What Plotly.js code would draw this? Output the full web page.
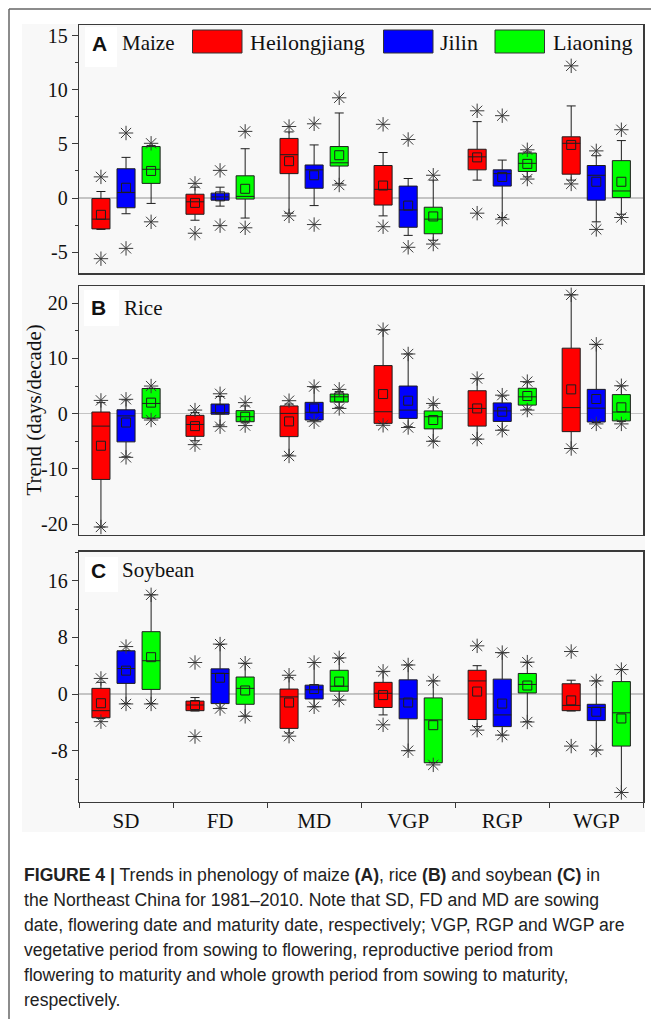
<!DOCTYPE html>
<html><head><meta charset="utf-8">
<script src="https://cdn.plot.ly/plotly-3.0.1.min.js"></script>
<style>html,body{margin:0;padding:0;background:#fff;} #chart{width:651px;height:1019px;}</style>
</head><body><div id="chart"></div>
<script>
// ---------- categories / labels ----------
const categories = ['SD','FD','MD','VGP','RGP','WGP'];
const provinces = ['Heilongjiang','Jilin','Liaoning'];
const provColors = ['#ff0000','#0000ff','#00ff00'];

// ---------- A  Maize ----------
// Heilongjiang
const maizeHLJ_q1   = [-2.85,-1.5, 2.25,-0.65, 2.6, 2.2];
const maizeHLJ_med  = [-1.95,-0.35,4.0, 0.8, 3.8, 5.05];
const maizeHLJ_q3   = [-0.05, 0.35,5.5, 3.0, 4.5, 5.65];
const maizeHLJ_lo   = [-2.9,-2.05,-1.4,-1.65,1.65,1.65];
const maizeHLJ_hi   = [0.6, 1.0, 6.1, 4.2, 7.05, 8.5];
const maizeHLJ_mean = [-1.55,-0.45,3.4, 1.15,3.75, 4.9];
const maizeHLJ_min  = [-5.6,-3.25,-1.65,-2.65,-1.4,1.3];
const maizeHLJ_max  = [1.95, 1.35, 6.6, 6.8, 8.05, 12.2];
// Jilin
const maizeJL_q1   = [-0.9,-0.2, 0.9,-2.7, 1.1,-0.2];
const maizeJL_med  = [0.5, 0.1, 2.6,-1.1, 2.25,2.1];
const maizeJL_q3   = [2.7, 0.45,3.05,1.1, 2.6, 3.0];
const maizeJL_lo   = [-1.45,-0.75,-0.7,-3.45,-1.8,-2.2];
const maizeJL_hi   = [3.75,1.0, 4.9, 1.8, 3.5, 3.9];
const maizeJL_mean = [0.95,0.15,2.1,-0.7, 1.95,1.5];
const maizeJL_min  = [-4.65,-2.55,-2.45,-4.55,-1.95,-2.9];
const maizeJL_max  = [6.0, 2.55,6.85,5.4, 7.6, 4.35];
// Liaoning
const maizeLN_q1   = [1.35,-0.1, 2.95,-3.3, 2.45,0.05];
const maizeLN_med  = [2.65,0.15, 3.25,-1.95,3.2, 0.65];
const maizeLN_q3   = [4.75,2.05, 4.75,-0.85,4.15,3.45];
const maizeLN_lo   = [-0.5,-1.85,1.35,-3.9, 1.95,-1.5];
const maizeLN_hi   = [4.85,4.55, 7.85,1.65, 4.25,5.3];
const maizeLN_mean = [2.5, 0.85, 3.95,-1.7, 3.15,1.5];
const maizeLN_min  = [-2.2,-2.75,1.2,-4.25, 1.75,-1.8];
const maizeLN_max  = [5.05,6.15, 9.25,2.1, 4.45,6.3];

// ---------- B  Rice ----------
const riceHLJ_q1   = [-11.9,-4.1,-4.15,-1.75,-2.25,-3.25];
const riceHLJ_med  = [-2.25,-1.95,0.05,0.35, 0.95, 1.1];
const riceHLJ_q3   = [0.3,-0.3, 1.4, 8.7, 4.15, 11.85];
const riceHLJ_lo   = [-20.5,-4.9,-7.5,-1.8,-4.6,-6.3];
const riceHLJ_hi   = [2.0, 0.2, 1.75,15.1, 6.3, 21.5];
const riceHLJ_mean = [-5.8,-2.25,-1.4,3.55,0.95, 4.4];
const riceHLJ_min  = [-20.5,-5.6,-7.65,-2.1,-4.6,-6.3];
const riceHLJ_max  = [2.4, 0.65,2.35,15.2, 6.35, 21.5];
const riceJL_q1   = [-5.1,-0.1,-1.15,-0.85,-1.4,-1.5];
const riceJL_med  = [-0.4,0.2, 0.25, 0.65, 0.5, 1.0];
const riceJL_q3   = [0.7, 1.75,2.05, 5.0, 1.95, 4.4];
const riceJL_lo   = [-7.8,-2.05,-1.2,-2.35,-2.95,-1.6];
const riceJL_hi   = [2.5, 3.1, 4.8, 10.8, 3.2, 12.5];
const riceJL_mean = [-1.6,0.8, 0.95, 2.35, 0.35, 2.65];
const riceJL_min  = [-7.9,-2.35,-1.45,-2.5,-3.0,-1.85];
const riceJL_max  = [2.6, 3.6, 4.9, 10.8, 3.35, 12.55];
const riceLN_q1   = [-0.8,-1.45,2.1,-2.75,1.55,-1.3];
const riceLN_med  = [1.85,-0.55,3.05,-0.55,3.05,0.3];
const riceLN_q3   = [4.55,0.55,3.55,0.5, 4.6, 3.45];
const riceLN_lo   = [-0.9,-1.65,1.15,-4.95,0.8,-1.4];
const riceLN_hi   = [4.6, 1.4, 4.0, 1.55, 5.7, 5.0];
const riceLN_mean = [2.0,-0.55,2.95,-1.15,3.2, 1.15];
const riceLN_min  = [-1.15,-2.15,0.95,-5.0,0.65,-1.85];
const riceLN_max  = [5.0, 2.0, 4.4, 1.85, 5.8, 5.05];

// ---------- C  Soybean ----------
const soyHLJ_q1   = [-3.35,-2.35,-4.85,-1.9,-3.6,-2.35];
const soyHLJ_med  = [-2.35,-1.55,-0.4, 0.1, 1.85,-1.6];
const soyHLJ_q3   = [0.8,-1.0, 0.7, 1.65, 3.35, 1.45];
const soyHLJ_lo   = [-3.45,-2.4,-5.5,-2.95,-4.6,-2.4];
const soyHLJ_hi   = [1.65,-0.5, 2.3, 3.15, 4.0, 1.95];
const soyHLJ_mean = [-1.3,-1.55,-1.2,-0.15,0.35,-0.9];
const soyHLJ_min  = [-3.9,-6.0,-5.95,-4.35,-5.1,-7.35];
const soyHLJ_max  = [2.2, 4.45,2.65, 3.2, 6.8, 6.0];
const soyJL_q1   = [1.5,-1.35,-0.7,-3.5,-4.6,-3.75];
const soyJL_med  = [3.6, 2.9, 0.6,-0.7,-2.95,-1.9];
const soyJL_q3   = [6.1, 3.55,1.25,2.0, 2.1,-1.45];
const soyJL_lo   = [-1.35,-2.0,-1.8,-8.0,-5.8,-7.9];
const soyJL_hi   = [6.15,7.0, 4.45,4.1, 5.8, 1.85];
const soyJL_mean = [3.3, 2.3, 0.7,-1.2,-1.35,-2.5];
const soyJL_min  = [-1.4,-2.05,-1.8,-8.0,-5.8,-7.9];
const soyJL_max  = [6.7, 7.05,4.45,4.1, 5.85,1.85];
const soyLN_q1   = [0.65,-1.45,0.4,-9.7, 0.15,-7.35];
const soyLN_med  = [4.7, 0.8, 1.1,-3.65,1.35,-2.65];
const soyLN_q3   = [8.8, 2.4, 3.35,-0.55,2.9, 1.75];
const soyLN_lo   = [-1.35,-3.1,-0.85,-9.7,-3.9,-13.9];
const soyLN_hi   = [14.0,4.3, 5.05,1.85, 4.45,3.45];
const soyLN_mean = [5.2, 0.5, 1.75,-4.4, 1.2,-3.45];
const soyLN_min  = [-1.4,-3.15,-0.85,-10.0,-3.95,-13.9];
const soyLN_max  = [14.0,4.35,5.1, 1.85, 4.5, 3.45];

// ---------- tick labels ----------
const tickValsA = [-5,0,5,10,15],   tickTextA = ['-5','0','5','10','15'];
const tickValsB = [-20,-10,0,10,20], tickTextB = ['-20','-10','0','10','20'];
const tickValsC = [-8,0,8,16],      tickTextC = ['-8','0','8','16'];
const panelNames = ['Maize','Rice','Soybean'];
const panelLetters = ['A','B','C'];
const yTitle = 'Trend (days/decade)';
const captionLines = [
  '<b>FIGURE 4 |</b> Trends in phenology of maize <b>(A)</b>, rice <b>(B)</b> and soybean <b>(C)</b> in',
  'the Northeast China for 1981–2010. Note that SD, FD and MD are sowing',
  'date, flowering date and maturity date, respectively; VGP, RGP and WGP are',
  'vegetative period from sowing to flowering, reproductive period from',
  'flowering to maturity and whole growth period from sowing to maturity,',
  'respectively.'
];

// ---------- build ----------
const W = 651, H = 1019;
const px = v => v / W;
const py = v => 1 - v / H;
const SERIF = 'Liberation Serif, Times New Roman, serif';
const SANS = 'Liberation Sans, Arial, sans-serif';
const DARK = '#1e1e1e';

const crops = [
  [ {q1:maizeHLJ_q1,med:maizeHLJ_med,q3:maizeHLJ_q3,lo:maizeHLJ_lo,hi:maizeHLJ_hi,mean:maizeHLJ_mean,min:maizeHLJ_min,max:maizeHLJ_max},
    {q1:maizeJL_q1,med:maizeJL_med,q3:maizeJL_q3,lo:maizeJL_lo,hi:maizeJL_hi,mean:maizeJL_mean,min:maizeJL_min,max:maizeJL_max},
    {q1:maizeLN_q1,med:maizeLN_med,q3:maizeLN_q3,lo:maizeLN_lo,hi:maizeLN_hi,mean:maizeLN_mean,min:maizeLN_min,max:maizeLN_max} ],
  [ {q1:riceHLJ_q1,med:riceHLJ_med,q3:riceHLJ_q3,lo:riceHLJ_lo,hi:riceHLJ_hi,mean:riceHLJ_mean,min:riceHLJ_min,max:riceHLJ_max},
    {q1:riceJL_q1,med:riceJL_med,q3:riceJL_q3,lo:riceJL_lo,hi:riceJL_hi,mean:riceJL_mean,min:riceJL_min,max:riceJL_max},
    {q1:riceLN_q1,med:riceLN_med,q3:riceLN_q3,lo:riceLN_lo,hi:riceLN_hi,mean:riceLN_mean,min:riceLN_min,max:riceLN_max} ],
  [ {q1:soyHLJ_q1,med:soyHLJ_med,q3:soyHLJ_q3,lo:soyHLJ_lo,hi:soyHLJ_hi,mean:soyHLJ_mean,min:soyHLJ_min,max:soyHLJ_max},
    {q1:soyJL_q1,med:soyJL_med,q3:soyJL_q3,lo:soyJL_lo,hi:soyJL_hi,mean:soyJL_mean,min:soyJL_min,max:soyJL_max},
    {q1:soyLN_q1,med:soyLN_med,q3:soyLN_q3,lo:soyLN_lo,hi:soyLN_hi,mean:soyLN_mean,min:soyLN_min,max:soyLN_max} ]
];

const data = [];
crops.forEach((crop, ci) => {
  const xa = ci === 0 ? 'x' : 'x' + (ci + 1);
  const ya = ci === 0 ? 'y' : 'y' + (ci + 1);
  crop.forEach((s, pi) => {
    data.push({
      type:'box', name:provinces[pi], x:categories, xaxis:xa, yaxis:ya,
      q1:s.q1, median:s.med, q3:s.q3, lowerfence:s.lo, upperfence:s.hi,
      boxpoints:false, offsetgroup:provinces[pi], showlegend:false,
      fillcolor:provColors[pi], line:{color:DARK, width:1}, whiskerwidth:0.5
    });
  });
  crop.forEach((s, pi) => {
    data.push({
      type:'scatter', mode:'markers', x:categories, y:s.mean, xaxis:xa, yaxis:ya,
      offsetgroup:provinces[pi], showlegend:false, name:provinces[pi]+' mean',
      marker:{symbol:'square-open', size:9, color:DARK, line:{width:1}}
    });
    data.push({
      type:'scatter', mode:'markers', x:categories.concat(categories), y:s.max.concat(s.min),
      xaxis:xa, yaxis:ya, offsetgroup:provinces[pi], showlegend:false, name:provinces[pi]+' min/max',
      marker:{symbol:'asterisk-open', size:12, color:'#3a3a3a', line:{width:1, color:'#3a3a3a'}}
    });
  });
});

// domains (pixel → paper)
const xDom = [px(79), px(643.3)];
const domA = [py(273.3), py(25)];
const domB = [py(535), py(286)];
const domC = [py(801.7), py(551.7)];

const frame = {showline:true, mirror:true, linecolor:'#3a3a3a', linewidth:1.3, showgrid:false, zeroline:false};
function xAxis(dom, last) {
  return Object.assign({}, frame, {
    type:'category', categoryorder:'array', categoryarray:categories, range:[-0.5,5.5], domain:dom,
    ticks: last ? 'outside' : '', tickson:'boundaries', ticklen:5, tickcolor:'#3a3a3a',
    showticklabels: !!last, tickfont:{family:SERIF, size:21, color:'#111'}, fixedrange:true
  });
}
function yAxis(dom, range, tv, tt, minorD) {
  return Object.assign({}, frame, {
    domain:dom, range:range, tickmode:'array', tickvals:tv, ticktext:tt,
    ticks:'outside', ticklen:6, tickcolor:'#3a3a3a', tickwidth:1,
    minor:{tickmode:'linear', tick0:0, dtick:minorD, ticks:'outside', ticklen:3, tickcolor:'#3a3a3a', showgrid:false},
    zeroline:true, zerolinecolor:'#c4c4c4', zerolinewidth:1.2,
    tickfont:{family:SERIF, size:20, color:'#111'}, fixedrange:true
  });
}

const shapes = [
  // light grey figure background
  {type:'rect', xref:'paper', yref:'paper', x0:px(22), x1:px(645), y0:py(832), y1:py(24), fillcolor:'#f8f8f8', line:{width:0}, layer:'below'},
  // page frame
  {type:'line', xref:'paper', yref:'paper', x0:px(9), x1:px(651), y0:py(9), y1:py(9), line:{color:'#666', width:1.5}},
  {type:'line', xref:'paper', yref:'paper', x0:px(9), x1:px(9), y0:py(9), y1:py(1019), line:{color:'#666', width:1.5}},
  // white boxes behind panel letters
  {type:'rect', xref:'paper', yref:'paper', x0:px(85), x1:px(117), y0:py(67), y1:py(27), fillcolor:'#fff', line:{width:0}, layer:'below'},
  {type:'rect', xref:'paper', yref:'paper', x0:px(84), x1:px(119), y0:py(326), y1:py(290), fillcolor:'#fff', line:{width:0}, layer:'below'},
  {type:'rect', xref:'paper', yref:'paper', x0:px(85), x1:px(118), y0:py(592), y1:py(557), fillcolor:'#fff', line:{width:0}, layer:'below'}
];
// legend swatches in panel A
const legX = [192.5, 383.5, 495];
const legTextX = [248, 438, 551];
legX.forEach((x, i) => {
  shapes.push({type:'rect', xref:'paper', yref:'paper', x0:px(x), x1:px(x+49.5), y0:py(53), y1:py(30),
    fillcolor:provColors[i], line:{color:'#333', width:1}});
});

const annotations = [];
const letterPos = [[99, 43], [98.5, 307.5], [98.5, 570]];
const namePos = [[120, 43], [121.5, 307.5], [120, 569.5]];
panelLetters.forEach((L, i) => {
  annotations.push({xref:'paper', yref:'paper', x:px(letterPos[i][0]), y:py(letterPos[i][1]), xanchor:'center', yanchor:'middle',
    text:'<b>'+L+'</b>', showarrow:false, font:{family:SANS, size:21, color:'#111'}});
  annotations.push({xref:'paper', yref:'paper', x:px(namePos[i][0]), y:py(namePos[i][1]), xanchor:'left', yanchor:'middle',
    text:panelNames[i], showarrow:false, font:{family:SERIF, size:21, color:'#111'}});
});
provinces.forEach((p, i) => {
  annotations.push({xref:'paper', yref:'paper', x:px(legTextX[i]), y:py(42.5), xanchor:'left', yanchor:'middle',
    text:p, showarrow:false, font:{family:SERIF, size:22, color:'#111'}});
});
annotations.push({xref:'paper', yref:'paper', x:px(33), y:py(410.5), xanchor:'center', yanchor:'middle', textangle:-90,
  text:yTitle, showarrow:false, font:{family:SERIF, size:21, color:'#111'}});
captionLines.forEach((t, i) => {
  annotations.push({xref:'paper', yref:'paper', x:px(22), y:py(875 + 25*i), xanchor:'left', yanchor:'middle',
    text:t, showarrow:false, font:{family:SANS, size:17.6, color:'#222'}});
});

const layout = {
  width:W, height:H, margin:{l:0, r:0, t:0, b:0},
  paper_bgcolor:'#ffffff', plot_bgcolor:'rgba(0,0,0,0)', showlegend:false,
  boxmode:'group', boxgap:0.2, boxgroupgap:0.28,
  scattermode:'group', scattergap:0.2,
  xaxis: xAxis(xDom, false), xaxis2: xAxis(xDom, false), xaxis3: xAxis(xDom, true),
  yaxis: Object.assign(yAxis(domA, [-6.95, 15.97], tickValsA, tickTextA, 2.5), {anchor:'x'}),
  yaxis2: Object.assign(yAxis(domB, [-21.95, 23.1], tickValsB, tickTextB, 5), {anchor:'x2'}),
  yaxis3: Object.assign(yAxis(domC, [-15.2, 20.09], tickValsC, tickTextC, 4), {anchor:'x3'}),
  shapes:shapes, annotations:annotations
};
layout.xaxis.anchor = 'y'; layout.xaxis2.anchor = 'y2'; layout.xaxis3.anchor = 'y3';

Plotly.newPlot('chart', data, layout, {staticPlot:true, displayModeBar:false});
</script>
</body></html>
